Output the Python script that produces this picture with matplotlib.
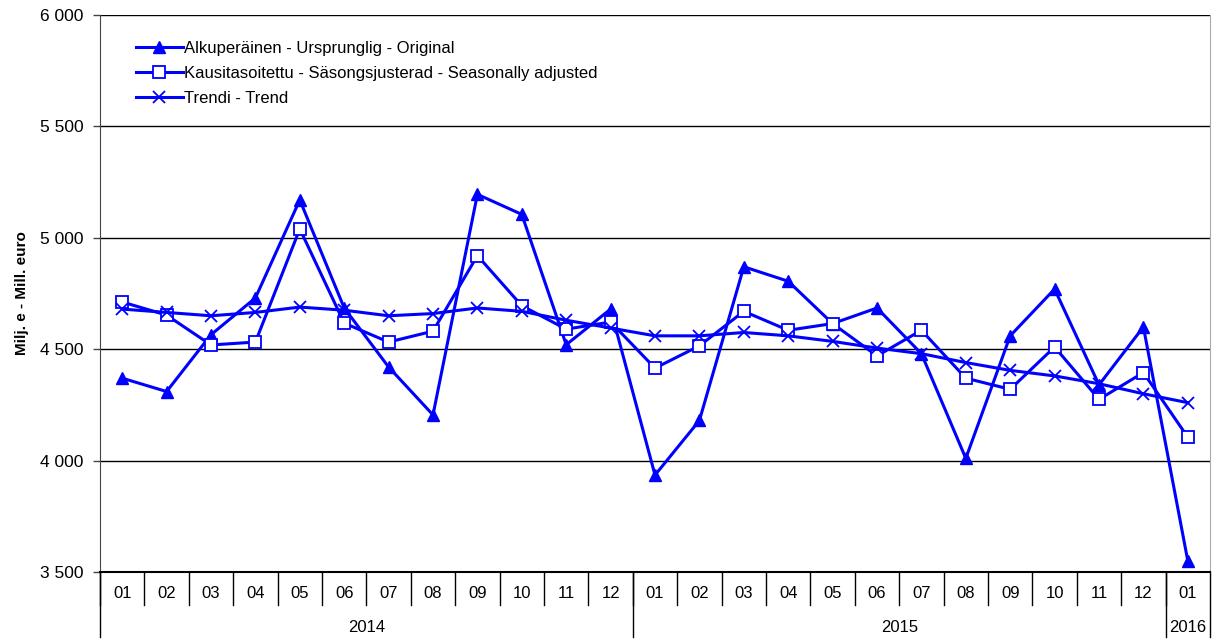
import matplotlib.pyplot as plt
from matplotlib.ticker import FuncFormatter

plt.rcParams['font.family'] = ['Liberation Sans', 'DejaVu Sans']

months = ["01", "02", "03", "04", "05", "06", "07", "08", "09", "10", "11", "12",
          "01", "02", "03", "04", "05", "06", "07", "08", "09", "10", "11", "12",
          "01"]
years = ["2014", "2015", "2016"]
year_lengths = [12, 12, 1]

original = [4370, 4310, 4565, 4730, 5170, 4685, 4420, 4205, 5195, 5105, 4520, 4680,
            3935, 4180, 4870, 4805, 4615, 4685, 4480, 4010, 4560, 4770, 4340, 4600,
            3550]
seasonal = [4712, 4653, 4519, 4532, 5040, 4617, 4532, 4581, 4920, 4695, 4590, 4622,
            4415, 4515, 4670, 4585, 4615, 4470, 4585, 4370, 4320, 4510, 4275, 4395,
            4105]
trend = [4680, 4665, 4650, 4665, 4689, 4675, 4650, 4660, 4685, 4670, 4630, 4595,
         4560, 4560, 4575, 4560, 4535, 4505, 4480, 4440, 4405, 4380, 4345, 4300,
         4260]

labels = ["Alkuperäinen - Ursprunglig - Original",
          "Kausitasoitettu - Säsongsjusterad - Seasonally adjusted",
          "Trendi - Trend"]

blue = "#0000ff"
fig = plt.figure(figsize=(12.2, 6.39), dpi=100)
ax = fig.add_axes([100 / 1220, 67 / 639, 1110 / 1220, 557 / 639])

x = list(range(len(months)))
ax.plot(x, original, color=blue, lw=2.2, marker="^", ms=9, label=labels[0])
ax.plot(x, seasonal, color=blue, lw=2.2, marker="s", ms=9, mfc="white",
        mec=blue, mew=1.3, label=labels[1])
ax.plot(x, trend, color=blue, lw=2.2, marker="x", ms=9, mew=1.3, label=labels[2])

ax.set_ylim(3500, 6000)
ax.set_xlim(-0.5, len(months) - 0.5)
ax.set_yticks(range(3500, 6001, 500))
ax.yaxis.set_major_formatter(FuncFormatter(lambda v, p: f"{int(v):,}".replace(",", " ")))
ax.tick_params(axis="y", labelsize=12.5, length=5, width=1, color="#444444", pad=7)
ax.set_xticks([])
ax.grid(axis="y", color="black", lw=1)
ax.set_axisbelow(True)
ax.spines["top"].set_visible(False)
ax.spines["left"].set_color("#444444")
ax.spines["right"].set_color("#aaaaaa")
ax.spines["bottom"].set_color("black")
ax.spines["bottom"].set_linewidth(1.5)

ax.set_ylabel("Milj. e - Mill. euro", fontsize=11, fontweight="bold", labelpad=8)

# category axis: months and years
tr = ax.get_xaxis_transform()
month_h = -33 / 557
year_h = -65 / 557
for i, m in enumerate(months):
    ax.text(i, -21 / 557, m, transform=tr, ha="center", va="center", fontsize=12)
    ax.plot([i - 0.5, i - 0.5], [0, month_h], transform=tr, color="black",
            lw=1, clip_on=False)
start = 0
for y, n in zip(years, year_lengths):
    ax.plot([start - 0.5, start - 0.5], [0, year_h], transform=tr, color="black",
            lw=1, clip_on=False)
    ax.text(start + (n - 1) / 2, -55 / 557, y, transform=tr, ha="center",
            va="center", fontsize=12)
    start += n
ax.plot([start - 0.5, start - 0.5], [0, year_h], transform=tr, color="black",
        lw=1, clip_on=False)

ax.legend(loc="upper left", bbox_to_anchor=(0.022, 0.975), frameon=False,
          fontsize=12, handlelength=2.8, handletextpad=0.1, labelspacing=0.62,
          borderaxespad=0.3)

fig.savefig("out.png", dpi=100)
